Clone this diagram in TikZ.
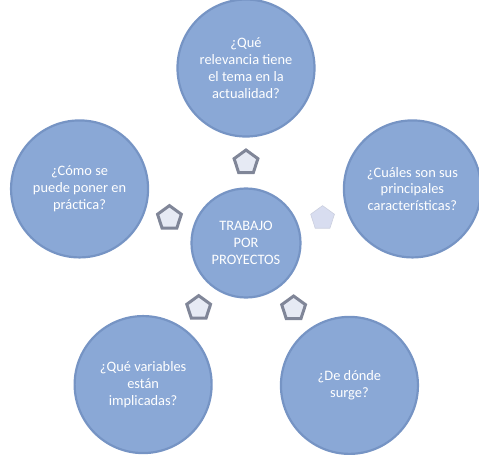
\documentclass[tikz,border=0pt]{standalone}
\usepackage{fontspec}
\setmainfont{Carlito}
\usetikzlibrary{shapes.geometric,calc}
\definecolor{bub}{RGB}{138,168,214}
\definecolor{bubrim}{RGB}{118,148,196}
\definecolor{tipgray}{RGB}{128,134,152}
\definecolor{tiplight}{RGB}{230,234,244}
\definecolor{tippale}{RGB}{216,221,240}
\tikzset{
  bubble/.style={circle, fill=bub, draw=bubrim, line width=2.2pt, text=white, align=center,
    minimum size=137pt, inner sep=0pt, font=\fontsize{14.4}{16.8}\selectfont},
  hub/.style={bubble, minimum size=109pt},
  tip/.style={regular polygon, regular polygon sides=5, minimum size=25pt, inner sep=0pt,
    fill=tiplight, draw=tipgray, line width=3pt, line join=miter},
  tipflat/.style={tip, fill=tippale, draw=tippale!85!gray, line width=0.6pt}
}

\begin{document}
\begin{tikzpicture}[x=1pt, y=1pt]
  \useasboundingbox (-246,-228) rectangle (233,243);
  \node[hub] (core) at (0,0) {TRABAJO\\POR\\PROYECTOS};
  \node[bubble] (rel) at (90:175) {¿Qué\\relevancia tiene\\el tema en la\\actualidad?};
  \node[bubble] (car) at (18:175) {¿Cuáles son sus\\principales\\características?};
  \node[bubble] (sur) at (-54:176) {¿De dónde\\surge?};
  \node[bubble] (var) at (-126:175) {¿Qué variables\\están\\implicadas?};
  \node[bubble] (pra) at (162:175) {¿Cómo se\\puede poner en\\práctica?};

  % flechas entre el centro y cada pregunta
  \node[tip] (t1) at ($(core.90)!0.5!(rel.-90)$) {};
  \node[tipflat, rotate=-72] (t2) at ($(core.18)!0.5!(car.198)$) {};
  \node[tip, rotate=-144] (t3) at ($(core.-54)!0.5!(sur.126)$) {};
  \node[tip, rotate=144] (t4) at ($(core.-126)!0.5!(var.54)$) {};
  \node[tip, rotate=72] (t5) at ($(core.162)!0.5!(pra.-18)$) {};
\end{tikzpicture}
\end{document}
